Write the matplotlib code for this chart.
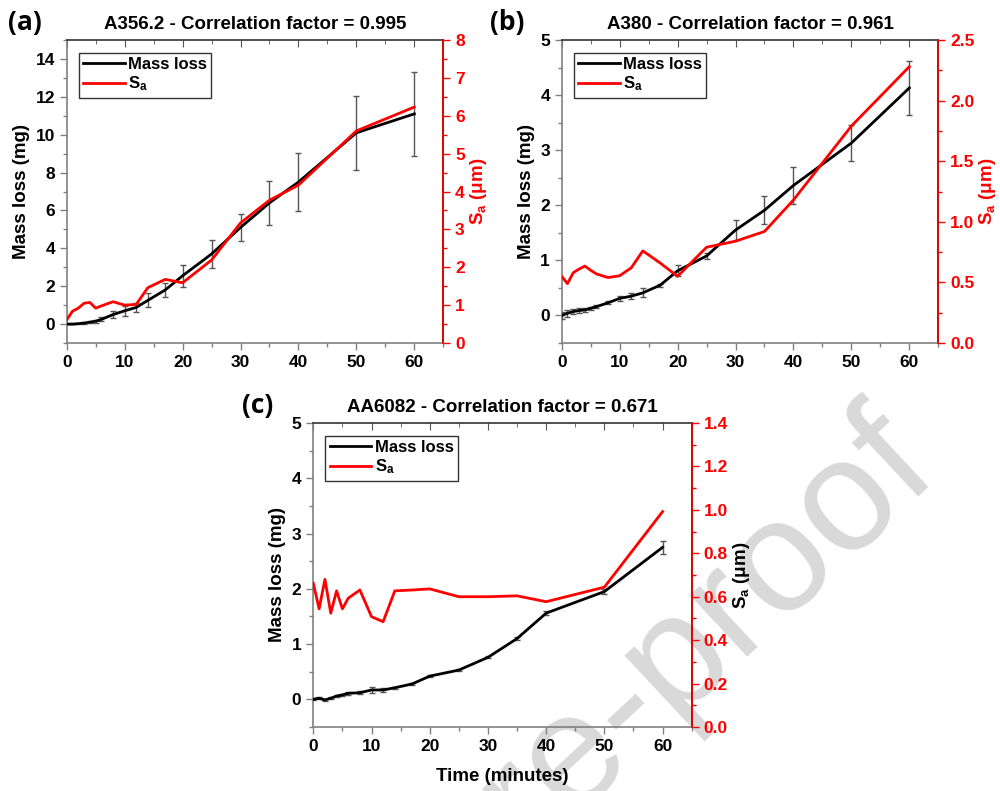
import numpy as np
import matplotlib
matplotlib.use('Agg')
import matplotlib.pyplot as plt
from matplotlib.ticker import MultipleLocator

plt.rcParams['font.family'] = ['Liberation Sans', 'DejaVu Sans']
plt.rcParams['font.weight'] = 'bold'
plt.rcParams['axes.titleweight'] = 'bold'
plt.rcParams['axes.labelweight'] = 'bold'
plt.rcParams['mathtext.fontset'] = 'custom'
plt.rcParams['mathtext.rm'] = 'Liberation Sans:bold'
plt.rcParams['mathtext.it'] = 'Liberation Sans:bold'
plt.rcParams['mathtext.bf'] = 'Liberation Sans:bold'

# sampling times (minutes)
time = [0, 1, 2, 3, 4, 5, 6, 8, 10, 12, 14, 17, 20, 25, 30, 35, 40, 50, 60]

# A356.2
mass_a = [0, 0.0, 0.02, 0.05, 0.1, 0.15, 0.25, 0.5, 0.7, 0.88, 1.25, 1.8,
          2.55, 3.7, 5.1, 6.4, 7.5, 10.1, 11.1]
err_a = [0.02, 0.02, 0.03, 0.04, 0.05, 0.08, 0.1, 0.2, 0.25, 0.22, 0.37, 0.37,
         0.57, 0.75, 0.7, 1.15, 1.55, 1.95, 2.2]
sa_a = [0.61, 0.84, 0.92, 1.05, 1.07, 0.92, 0.98, 1.09, 1.0, 1.02, 1.46, 1.68,
        1.59, 2.19, 3.17, 3.77, 4.17, 5.6, 6.23]

# A380
mass_b = [0, 0.04, 0.07, 0.09, 0.1, 0.13, 0.16, 0.23, 0.31, 0.35, 0.41, 0.55,
          0.81, 1.08, 1.55, 1.91, 2.36, 3.13, 4.13]
err_b = [0.06, 0.06, 0.05, 0.04, 0.04, 0.03, 0.03, 0.03, 0.04, 0.06, 0.08, 0.03,
         0.1, 0.05, 0.18, 0.25, 0.33, 0.32, 0.49]
sa_b = [0.55, 0.49, 0.58, 0.61, 0.635, 0.6, 0.57, 0.54, 0.555, 0.62, 0.76, 0.66,
        0.55, 0.79, 0.84, 0.92, 1.18, 1.79, 2.28]

# AA6082
mass_c = [0.0, 0.02, -0.01, 0.02, 0.06, 0.08, 0.11, 0.12, 0.17, 0.17, 0.21, 0.28,
          0.42, 0.53, 0.76, 1.1, 1.56, 1.95, 2.75]
err_c = [0.02, 0.02, 0.02, 0.02, 0.02, 0.02, 0.03, 0.03, 0.06, 0.04, 0.02, 0.02,
         0.02, 0.02, 0.02, 0.02, 0.03, 0.04, 0.12]
sa_c = [0.662, 0.544, 0.68, 0.524, 0.627, 0.544, 0.593, 0.631, 0.508, 0.485, 0.627,
        0.631, 0.636, 0.60, 0.60, 0.604, 0.577, 0.644, 0.992]

titles = ['A356.2 - Correlation factor = 0.995',
          'A380 - Correlation factor = 0.961',
          'AA6082 - Correlation factor = 0.671']

W, H = 1000, 791
fig = plt.figure(figsize=(10, 7.91), dpi=100)

# watermark behind everything
fig.text(941 / W, 1 - 476 / H, 'Journal Pre-proof', fontsize=115, color='#d9d9d9',
         fontweight='normal', rotation=43, rotation_mode='anchor',
         ha='right', va='baseline', zorder=-5)


def px_axes(x0, y0, x1, y1):
    return fig.add_axes([x0 / W, 1 - y1 / H, (x1 - x0) / W, (y1 - y0) / H])


def panel(ax, mass, err, sa, ylim, ymaj, ymin, rlim, rmaj, rmin, title,
          sa_color='red', xlabel=False):
    ax.set_facecolor('none')
    ax2 = ax.twinx()
    ax2.set_facecolor('none')
    ax.errorbar(time, mass, yerr=err, color='black', lw=2, ecolor='#555555',
                elinewidth=1, capsize=2.5, capthick=1, zorder=3)
    l1, = ax.plot([], [], color='black', lw=2)
    l2, = ax2.plot(time, sa, color='red', lw=2)
    ax.set_xlim(0, 65)
    ax.set_ylim(*ylim)
    ax2.set_ylim(*rlim)
    ax.xaxis.set_major_locator(MultipleLocator(10))
    ax.xaxis.set_minor_locator(MultipleLocator(5))
    ax.yaxis.set_major_locator(MultipleLocator(ymaj))
    ax.yaxis.set_minor_locator(MultipleLocator(ymin))
    ax2.yaxis.set_major_locator(MultipleLocator(rmaj))
    ax2.yaxis.set_minor_locator(MultipleLocator(rmin))
    if rmaj < 1:
        ax2.yaxis.set_major_formatter(plt.FormatStrFormatter('%.1f'))

    for s in ['left', 'bottom']:
        ax.spines[s].set_color('#808080')
    ax.spines['top'].set_color('#333333')
    ax2.spines['right'].set_color('red')
    for s in ['left', 'bottom', 'top']:
        ax2.spines[s].set_visible(False)
    for a in (ax, ax2):
        for sp in a.spines.values():
            sp.set_linewidth(1.2)

    ax.tick_params(axis='both', which='both', labelsize=12.5, color='#808080', width=1)
    ax.tick_params(which='major', length=5)
    ax.tick_params(which='minor', length=3)
    sec = ax.secondary_xaxis('top')
    sec.xaxis.set_major_locator(MultipleLocator(10))
    sec.xaxis.set_minor_locator(MultipleLocator(5))
    sec.tick_params(which='both', direction='in', labeltop=False, color='#555555')
    sec.tick_params(which='major', length=5)
    sec.tick_params(which='minor', length=3)
    sec.spines['top'].set_visible(False)

    ax2.tick_params(axis='y', which='both', colors='red', labelsize=12.5, width=1)
    ax2.tick_params(which='major', length=5)
    ax2.tick_params(which='minor', length=3)

    ax.set_ylabel('Mass loss (mg)', fontsize=13.5, labelpad=4)
    ax2.set_ylabel('S$_a$ (\u03bcm)', fontsize=13.5, color=sa_color, labelpad=2)
    if xlabel:
        ax.set_xlabel('Time (minutes)', fontsize=13.5, labelpad=10)
    ax.set_title(title, fontsize=13.5, pad=8)

    leg = ax.legend([l1, l2], ['Mass loss', 'S$_a$'], loc='upper left',
                    bbox_to_anchor=(0.032, 0.957), borderaxespad=0, fontsize=12,
                    handlelength=2.5, handletextpad=0.2, labelspacing=0.15,
                    borderpad=0.25, fancybox=False, framealpha=1)
    leg.get_frame().set_edgecolor('#333333')
    leg.get_frame().set_linewidth(1)
    leg.get_frame().set_facecolor('none')
    leg.set_zorder(5)
    return ax, ax2


ax_a = px_axes(66.7, 40, 443.3, 343)
panel(ax_a, mass_a, err_a, sa_a, (-1, 15), 2, 1, (0, 8), 1, 0.5, titles[0])

ax_b = px_axes(561.7, 40, 938.3, 343)
panel(ax_b, mass_b, err_b, sa_b, (-0.5, 5), 1, 0.5, (0, 2.5), 0.5, 0.25, titles[1])

ax_c = px_axes(313.3, 423, 691.7, 727)
panel(ax_c, mass_c, err_c, sa_c, (-0.5, 5), 1, 0.5, (0, 1.4), 0.2, 0.1, titles[2],
      sa_color='black', xlabel=True)

for lab, x, y in [('(a)', 8, 30), ('(b)', 490, 30), ('(c)', 242, 413)]:
    fig.text(x / W, 1 - y / H, lab, fontsize=19, fontweight='bold',
             family=['Open Sans', 'DejaVu Sans'], ha='left', va='baseline')

fig.savefig('out.png', dpi=100)
